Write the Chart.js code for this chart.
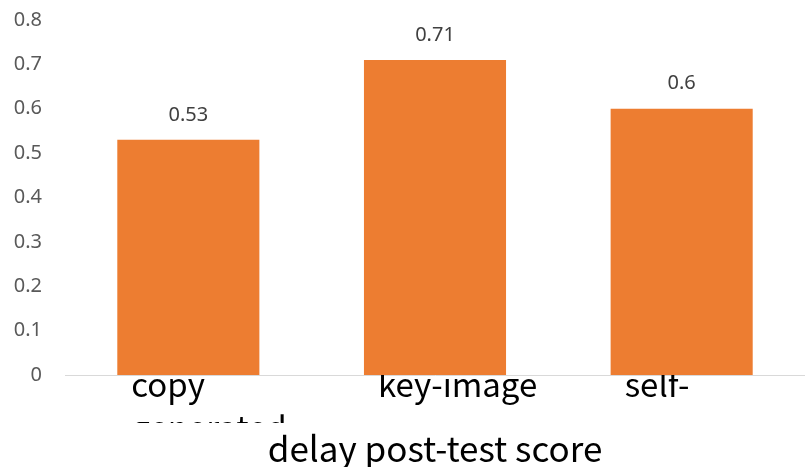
<!DOCTYPE html>
<html><head><meta charset="utf-8">
<script src="https://cdn.jsdelivr.net/npm/chart.js@4.4.0/dist/chart.umd.min.js"></script>
<style>html,body{margin:0;padding:0;background:#fff}#wrap{width:805px;height:467px}</style>
</head><body><div id="wrap"><canvas id="c" width="805" height="467"></canvas></div>
<script>
const categories = [["copy", "generated"], "key-image", "self-"];
const scores = [0.53, 0.71, 0.6];
const yTicks = [0, 0.1, 0.2, 0.3, 0.4, 0.5, 0.6, 0.7, 0.8];
const axisTitle = "delay post-test score";

const valueLabels = {
  id: 'valueLabels',
  afterDatasetsDraw(chart) {
    const ctx = chart.ctx;
    const meta = chart.getDatasetMeta(0);
    ctx.save();
    ctx.font = '20px "Noto Sans"';
    ctx.fillStyle = '#404040';
    ctx.textAlign = 'center';
    ctx.textBaseline = 'middle';
    meta.data.forEach((bar, i) => {
      ctx.fillText(String(scores[i]), bar.x, bar.y - 25);
    });
    ctx.restore();
    // clip x tick labels (drawn after datasets) at the wrap line
    ctx.save();
    ctx.beginPath();
    ctx.rect(0, 0, chart.width, 423);
    ctx.clip();
  },
  afterDraw(chart) { chart.ctx.restore(); }
};

new Chart(document.getElementById('c'), {
  type: 'bar',
  data: {
    labels: categories,
    datasets: [{ data: scores, backgroundColor: '#ED7D31', categoryPercentage: 1, barPercentage: 0.576 }]
  },
  options: {
    responsive: false,
    animation: false,
    devicePixelRatio: 1,
    layout: { padding: { top: 20, right: 0, left: 0, bottom: 0 } },
    plugins: { legend: { display: false }, tooltip: { enabled: false } },
    scales: {
      x: {
        grid: { display: false, drawTicks: false },
        border: { display: true, color: '#d9d9d9', width: 1 },
        ticks: {
          z: 1,
          color: '#000', font: { family: '"Noto Sans CJK JP"', size: 33, lineHeight: 1.3 },
          align: 'start', labelOffset: -57, padding: -12, maxRotation: 0, autoSkip: false
        },
        title: { display: true, text: axisTitle, color: '#000',
          font: { family: '"Noto Sans CJK JP"', size: 35, lineHeight: 1 }, padding: { top: 0, bottom: 1 } },
        afterFit(s) { s.height = 92; }
      },
      y: {
        min: 0, max: 0.8,
        afterBuildTicks(s) { s.ticks = yTicks.map(v => ({ value: v })); },
        grid: { display: false, drawTicks: false },
        border: { display: false },
        ticks: { color: '#595959', font: { family: '"Noto Sans"', size: 20 }, padding: 23,
          callback: v => String(v) },
        afterFit(s) { s.width = 65; s.paddingTop = 0; s.paddingBottom = 0; }
      }
    }
  },
  plugins: [valueLabels]
});
</script></body></html>
